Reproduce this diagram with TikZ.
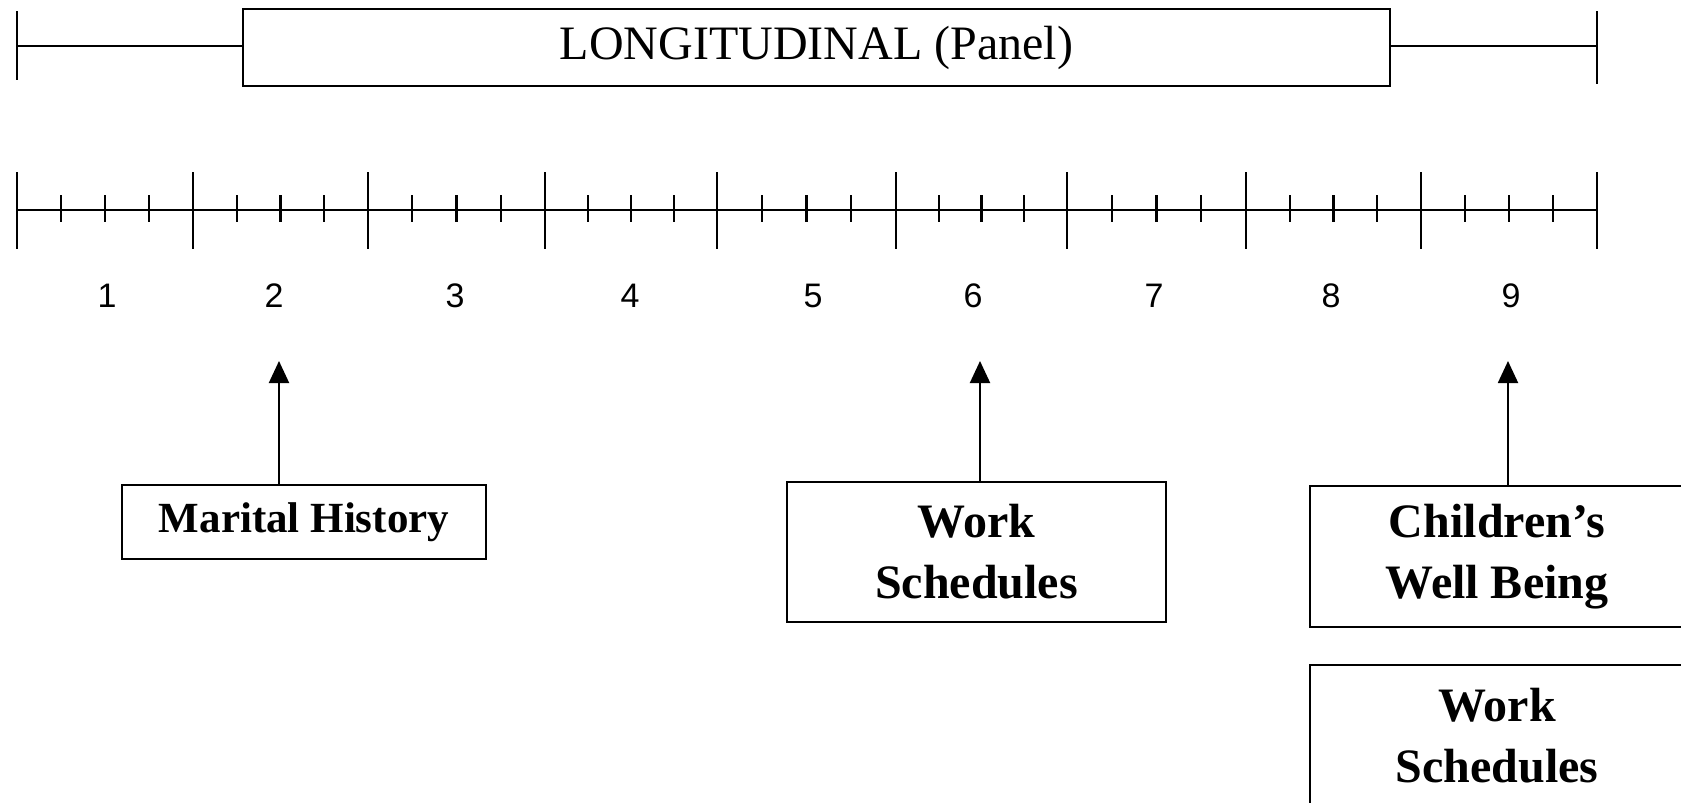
\documentclass[tikz,border=0pt]{standalone}
\usepackage{fontspec}
\setmainfont{Liberation Serif}
\newfontfamily\numfont{Liberation Sans}
\usetikzlibrary{arrows.meta}
\begin{document}
\begin{tikzpicture}[x=0.5pt,y=-0.5pt,
  box/.style={draw, line width=1pt, inner sep=0pt, align=center,
    font=\bfseries\fontsize{24}{30.5}\selectfont},
  topbox/.style={draw, line width=0.7pt, inner sep=0pt,
    minimum width=573.5pt, minimum height=38.5pt,
    font=\fontsize{24}{28}\selectfont},
  numlab/.style={font=\numfont\fontsize{17}{19}\selectfont, inner sep=0pt},
  rule/.style={line width=1.2pt},
  upar/.style={line width=1pt, -{Triangle[width=10pt,length=11pt]}}]
\useasboundingbox (0,0) rectangle (1681,803);
\clip (0,0) rectangle (1681,803);
\fill[white] (0,0) rectangle (1681,803);

% top bracket
\node[topbox] (long) at (816.5,47.5) {LONGITUDINAL (Panel)};
\coordinate (lt) at (17,11); \coordinate (lb) at (17,80);
\coordinate (rt) at (1597,11); \coordinate (rb) at (1597,84);
\draw[rule] (lt) -- (lb);
\draw[rule] (rt) -- (rb);
\draw[rule] (17,46) coordinate (lm) -- (lm -| long.west);
\draw[rule] (1597,46) coordinate (rm) -- (rm -| long.east);

% timeline
\coordinate (tl0) at (17,210); \coordinate (tl9) at (1597,210);
\draw[rule] (tl0) -- (tl9);
\foreach \a/\b [count=\i] in {17/193,193/368,368/545,545/717,717/896,896/1067,1067/1246,1246/1421,1421/1597}{
  \draw[rule] (\a,172) -- (\a,249);
  \foreach \f in {0.25,0.5,0.75}{
    \draw[rule] ({\a+\f*(\b-\a)},195) -- ({\a+\f*(\b-\a)},222);
  }
}
\draw[rule] (1597,172) -- (1597,249);

% numbers
\foreach \x [count=\i] in {107,274,455,630,813,973,1154,1331,1511}{
  \node[numlab] (n\i) at (\x,296) {\i};
}

% boxes
\node[box, minimum width=182pt, minimum height=37pt, font=\bfseries\fontsize{21.5}{26}\selectfont] (mh) at (304,522) {Marital History};
\node[box, minimum width=189.5pt, minimum height=70pt] (ws1) at (976.5,552) {Work\\Schedules};
\node[box, minimum width=187pt, minimum height=70.5pt] (cw) at (1497,556.5) {Children’s\\Well Being};
\node[box, minimum width=187pt, minimum height=70.5pt] (ws2) at (1497,735.5) {Work\\Schedules};

% arrows
\coordinate (t2) at (279,361);
\coordinate (t6) at (980,361);
\coordinate (t9) at (1508,361);
\draw[upar] (mh.north -| t2) -- (t2);
\draw[upar] (ws1.north -| t6) -- (t6);
\draw[upar] (cw.north -| t9) -- (t9);
\end{tikzpicture}
\end{document}
